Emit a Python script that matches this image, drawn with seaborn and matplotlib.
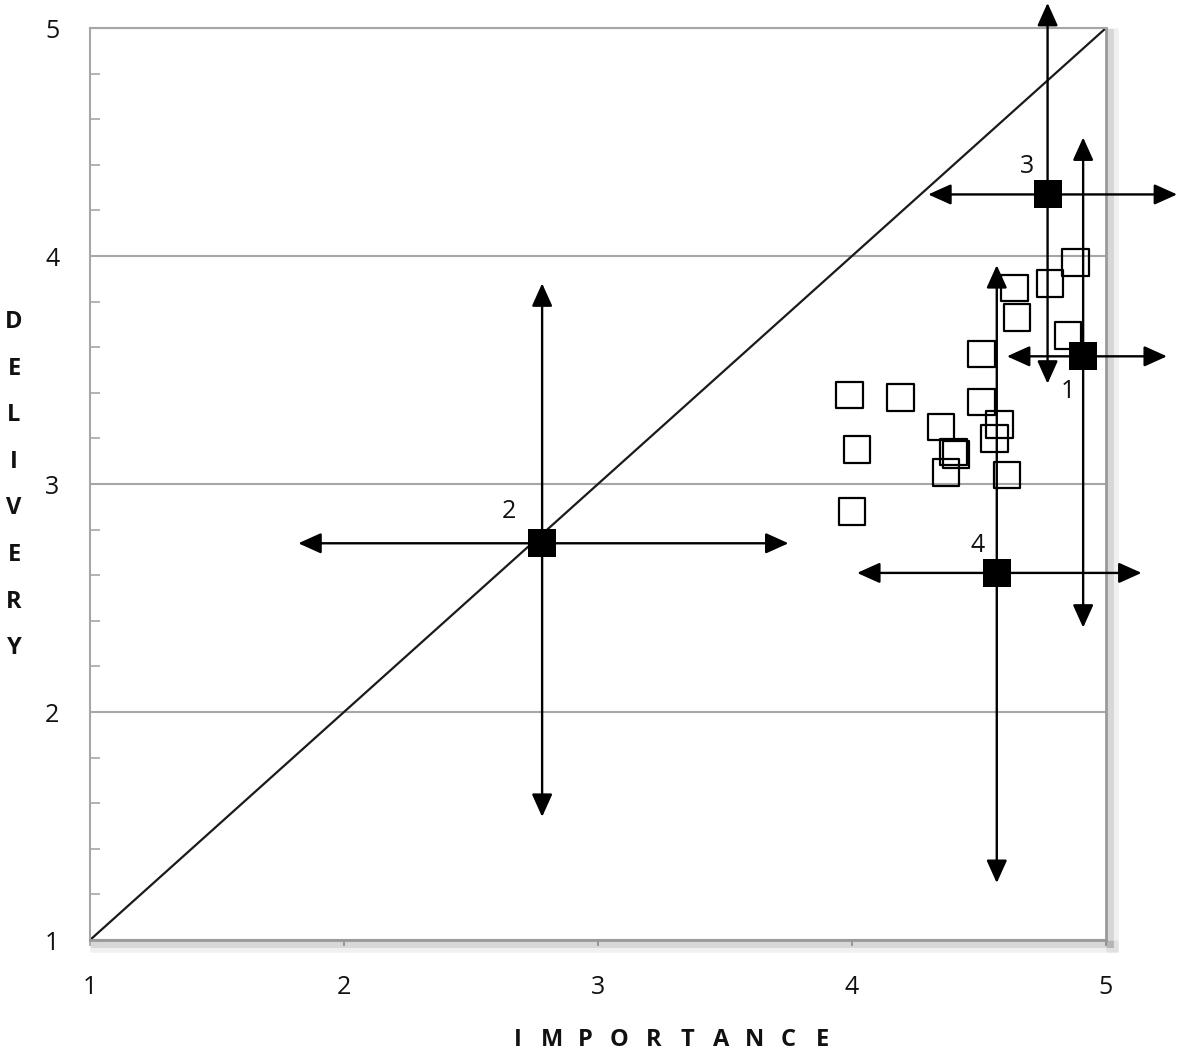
import matplotlib
matplotlib.use("Agg")
import matplotlib.pyplot as plt
import matplotlib.patheffects as pe
from matplotlib.patches import FancyArrowPatch
from matplotlib.ticker import MultipleLocator
import seaborn as sns

# individual items (open squares)
item_importance = [3.99, 4.19, 4.02, 4.00, 4.35, 4.40, 4.41, 4.37, 4.51, 4.51,
                   4.58, 4.56, 4.61, 4.64, 4.65, 4.78, 4.88, 4.85]
item_delivery = [3.39, 3.38, 3.15, 2.88, 3.25, 3.14, 3.13, 3.05, 3.57, 3.36,
                 3.26, 3.20, 3.04, 3.86, 3.73, 3.88, 3.97, 3.65]

# groups (filled squares) with their spread
group_labels = ["1", "2", "3", "4"]
group_importance = [4.91, 2.78, 4.77, 4.57]
group_delivery = [3.56, 2.74, 4.27, 2.61]
importance_low = [4.61, 1.82, 4.30, 4.02]
importance_high = [5.24, 3.75, 5.28, 5.14]
delivery_low = [2.37, 1.54, 3.44, 1.25]
delivery_high = [4.52, 3.88, 5.11, 3.96]

# label offsets in pixels from each group marker
label_offsets = [(-15, -35), (-33, 32), (-21, 28), (-19, 27)]

sns.set_style("white")
plt.rcParams["font.family"] = ["Open Sans", "DejaVu Sans"]
plt.rcParams["text.color"] = "#111111"
plt.rcParams["xtick.labelcolor"] = "#111111"
plt.rcParams["ytick.labelcolor"] = "#111111"

grey = "#a6a6a6"
W, H = 1181, 1053
fig = plt.figure(figsize=(W / 100, H / 100), dpi=100)
ax = fig.add_axes([90 / W, 1 - 940 / H, (1106 - 90) / W, (940 - 28) / H])

ax.set_xlim(1, 5)
ax.set_ylim(1, 5)
ax.set_xticks([1, 2, 3, 4, 5])
ax.set_yticks([1, 2, 3, 4, 5])
ax.yaxis.set_minor_locator(MultipleLocator(0.2))
ax.yaxis.grid(True, color=grey, lw=1.5)
ax.set_axisbelow(True)

ax.tick_params(axis="y", which="major", left=True, length=0, pad=22, labelsize=18)
ax.tick_params(axis="y", which="minor", left=True, direction="in", length=7,
               width=1.2, color=grey)
ax.tick_params(axis="x", which="major", bottom=True, direction="out", length=4,
               width=1.2, color=grey, pad=21, labelsize=18)

for side in ["left", "top", "right", "bottom"]:
    ax.spines[side].set_color(grey)
    ax.spines[side].set_linewidth(1.5)
for side in ["right", "bottom"]:
    ax.spines[side].set_linewidth(2.0)
    ax.spines[side].set_color("#9a9a9a")
    ax.spines[side].set_path_effects([
        pe.SimpleLineShadow(offset=(4, -4), shadow_color="black", alpha=0.06, linewidth=9),
        pe.SimpleLineShadow(offset=(3, -3), shadow_color="black", alpha=0.10, linewidth=5),
        pe.Normal()])

# 1:1 line
ax.axline((1, 1), slope=1, color="#1a1a1a", lw=1.6, zorder=2)

# open squares
sns.scatterplot(x=item_importance, y=item_delivery, marker="s", s=370,
                facecolor="none", edgecolor="black", linewidth=1.6, ax=ax, zorder=3)
ax.collections[-1].set_facecolor("none")

# spread arrows
arrow_kw = dict(arrowstyle="<|-|>,head_length=1.0,head_width=0.45", mutation_scale=14,
                lw=1.7, color="black", shrinkA=0, shrinkB=0, clip_on=False, zorder=4)
for i in range(len(group_labels)):
    ax.add_patch(FancyArrowPatch((importance_low[i], group_delivery[i]),
                                 (importance_high[i], group_delivery[i]), **arrow_kw))
    ax.add_patch(FancyArrowPatch((group_importance[i], delivery_low[i]),
                                 (group_importance[i], delivery_high[i]), **arrow_kw))

# filled squares
sns.scatterplot(x=group_importance, y=group_delivery, marker="s", s=430,
                color="black", linewidth=0, ax=ax, zorder=5, clip_on=False)

for i, lab in enumerate(group_labels):
    ax.annotate(lab, (group_importance[i], group_delivery[i]), xytext=label_offsets[i],
                textcoords="offset pixels", fontsize=18, ha="center", va="center",
                annotation_clip=False)

ax.set_xlabel("")
ax.set_ylabel("")

# spaced axis titles
for k, ch in enumerate("IMPORTANCE"):
    fig.text((518 + k * 33.8) / W, 1 - 1040 / H, ch, fontsize=17, fontweight="bold",
             ha="center", va="center")
for k, ch in enumerate("DELIVERY"):
    fig.text(14 / W, 1 - (322 + k * 46.6) / H, ch, fontsize=17, fontweight="bold",
             ha="center", va="center")

fig.savefig("out.png", dpi=100)
